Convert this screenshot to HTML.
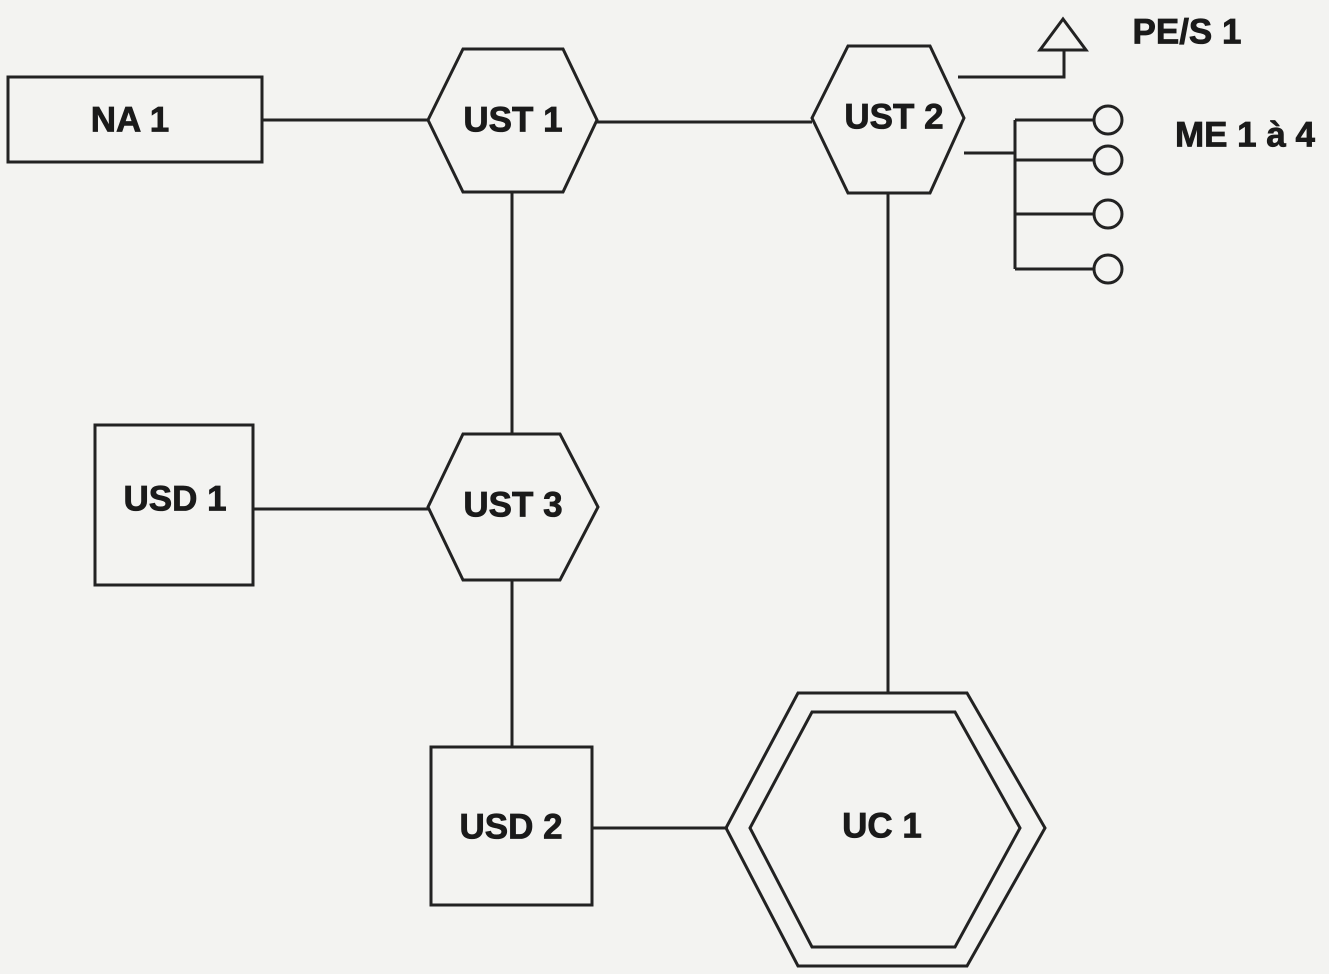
<!DOCTYPE html>
<html><head><style>
html,body{margin:0;padding:0;background:#f3f3f1;}
svg{display:block}
text{font-family:"Liberation Sans",Arial,sans-serif;font-weight:bold;font-size:35px;fill:#1a1a1a;stroke:#1a1a1a;stroke-width:0.8;text-anchor:middle;dominant-baseline:central}
</style></head><body>
<svg width="1329" height="974" viewBox="0 0 1329 974">
<rect width="1329" height="974" fill="#f3f3f1"/>
<g stroke="#222" stroke-width="3" fill="none">
<rect x="8" y="77" width="254" height="85"/>
<line x1="262" y1="120" x2="428" y2="120"/>
<polygon points="428,120 463,49 563,49 597,120 563,192 463,192"/>
<line x1="597" y1="122" x2="812" y2="122"/>
<polygon points="812,118 848,46 930,46 964,118 930,193 848,193"/>
<polyline points="958,77 1064,77 1064,50"/>
<polygon points="1063,19 1040,50 1086,50"/>
<line x1="964" y1="153" x2="1015" y2="153"/>
<line x1="1015" y1="120" x2="1015" y2="269"/>
<line x1="1015" y1="120" x2="1094" y2="120"/>
<line x1="1015" y1="160" x2="1094" y2="160"/>
<line x1="1015" y1="214" x2="1094" y2="214"/>
<line x1="1015" y1="269" x2="1094" y2="269"/>
<circle cx="1108" cy="120" r="14"/>
<circle cx="1108" cy="160" r="14"/>
<circle cx="1108" cy="214" r="14"/>
<circle cx="1108" cy="269" r="14"/>
<line x1="512" y1="192" x2="512" y2="434"/>
<polygon points="428,507 463,434 560,434 598,507 560,580 463,580"/>
<rect x="95" y="425" width="158" height="160"/>
<line x1="253" y1="509" x2="428" y2="509"/>
<line x1="512" y1="580" x2="512" y2="747"/>
<rect x="431" y="747" width="161" height="158"/>
<line x1="592" y1="828" x2="728" y2="828"/>
<line x1="888" y1="193" x2="888" y2="693"/>
<polygon points="726,828 798,693 967,693 1045,828 967,966 798,966"/>
<polygon points="750,828 812,712 955,712 1020,828 955,947 812,947"/>
</g>
<text x="130" y="120">NA 1</text>
<text x="513" y="120">UST 1</text>
<text x="894" y="117">UST 2</text>
<text x="1187" y="32">PE/S 1</text>
<text x="1245" y="135">ME 1 à 4</text>
<text x="175" y="499">USD 1</text>
<text x="513" y="505">UST 3</text>
<text x="511" y="827">USD 2</text>
<text x="882" y="826">UC 1</text>
</svg>
</body></html>
